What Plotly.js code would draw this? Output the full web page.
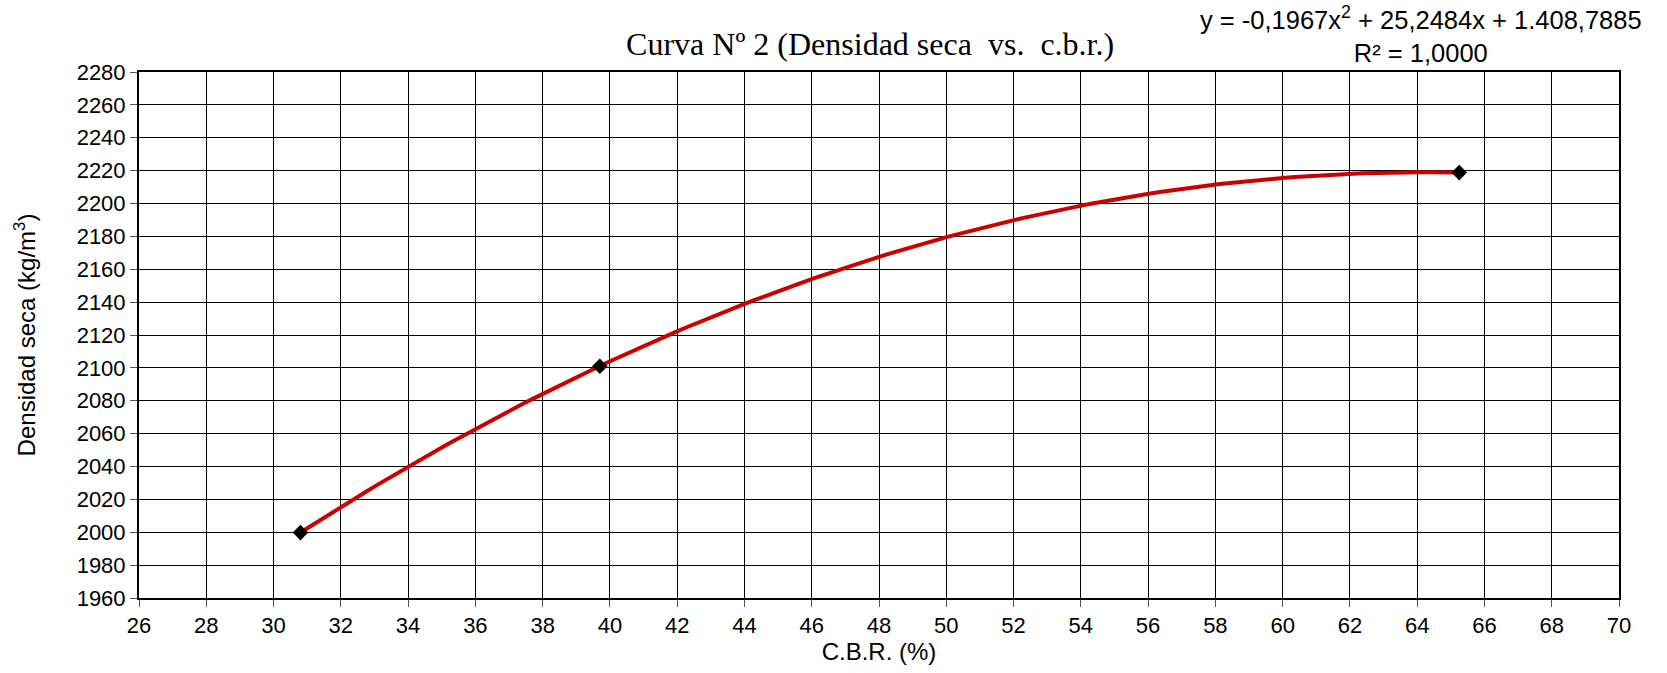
<!DOCTYPE html>
<html>
<head>
<meta charset="utf-8">
<script src="https://cdn.plot.ly/plotly-3.0.1.min.js"></script>
<style>html,body{margin:0;padding:0;background:#fff;}#chart{width:1667px;height:673px;}</style>
</head>
<body>
<div id="chart"></div>
<script>
// Measured points (C.B.R. %, dry density kg/m3)
const cbrValues = [30.8, 39.7, 65.25];
const densityValues = [1999.8, 2101.0, 2218.8];
// Polynomial trendline coefficients shown on the chart (a, b, c): y = a x^2 + b x + c
const trendCoefficients = [-0.1967, 25.2484, 1408.7885];
const xTickValues = [26,28,30,32,34,36,38,40,42,44,46,48,50,52,54,56,58,60,62,64,66,68,70];
const yTickValues = [1960,1980,2000,2020,2040,2060,2080,2100,2120,2140,2160,2180,2200,2220,2240,2260,2280];

// trendline evaluated from the displayed coefficients over the data span
const xMin = Math.min(...cbrValues), xMax = Math.max(...cbrValues);
const trendX = [], trendY = [];
const nSteps = 120;
for (let i = 0; i <= nSteps; i++) {
  const x = xMin + (xMax - xMin) * i / nSteps;
  trendX.push(x);
  trendY.push(trendCoefficients[0]*x*x + trendCoefficients[1]*x + trendCoefficients[2]);
}

const traces = [
  {x: trendX, y: trendY, mode: 'lines', line: {color: '#CC0000', width: 4}, hoverinfo: 'skip', showlegend: false},
  {x: cbrValues, y: densityValues, mode: 'markers', marker: {symbol: 'diamond', size: 12, color: '#000000'}, showlegend: false}
];

const sans = 'Liberation Sans, Arial, sans-serif';
const tickFont = {family: sans, size: 22, color: '#000'};
const titleFont = {family: sans, size: 24, color: '#000'};

const layout = {
  width: 1667, height: 673,
  margin: {l: 139, r: 48, t: 72, b: 75},
  paper_bgcolor: '#fff', plot_bgcolor: '#fff',
  showlegend: false,
  title: {text: 'Curva Nº 2 (Densidad seca  vs.  c.b.r.)', font: {family: 'Liberation Serif, Times New Roman, serif', size: 32, color: '#000'},
          x: 0.494, xanchor: 'center', y: 0.935, yanchor: 'middle', xref: 'paper'},
  xaxis: {
    range: [26, 70], tickvals: xTickValues, ticktext: xTickValues.map(String),
    showgrid: true, gridcolor: '#000', gridwidth: 1, zeroline: false,
    showline: true, linecolor: '#000', linewidth: 2, mirror: true,
    ticks: 'outside', ticklen: 7, tickwidth: 1, tickcolor: '#555',
    tickfont: tickFont,
    title: {text: 'C.B.R. (%)', font: titleFont, standoff: 5}
  },
  yaxis: {
    range: [1960, 2280], tickvals: yTickValues, ticktext: yTickValues.map(String),
    showgrid: true, gridcolor: '#000', gridwidth: 1, zeroline: false,
    showline: true, linecolor: '#000', linewidth: 2, mirror: true,
    ticks: 'outside', ticklen: 7, tickwidth: 1, tickcolor: '#555',
    tickfont: tickFont,
    title: {text: 'Densidad seca (kg/m<sup>3</sup>)', font: titleFont, standoff: 34}
  },
  annotations: [{
    xref: 'paper', yref: 'paper', x: 0.866, y: 1.072, xanchor: 'center', yanchor: 'middle',
    text: 'y = -0,1967x<sup>2</sup> + 25,2484x + 1.408,7885<br>R² = 1,0000',
    showarrow: false, align: 'center', font: {family: sans, size: 25.5, color: '#000'}
  }]
};

Plotly.newPlot('chart', traces, layout, {displayModeBar: false, staticPlot: true});
</script>
</body>
</html>
